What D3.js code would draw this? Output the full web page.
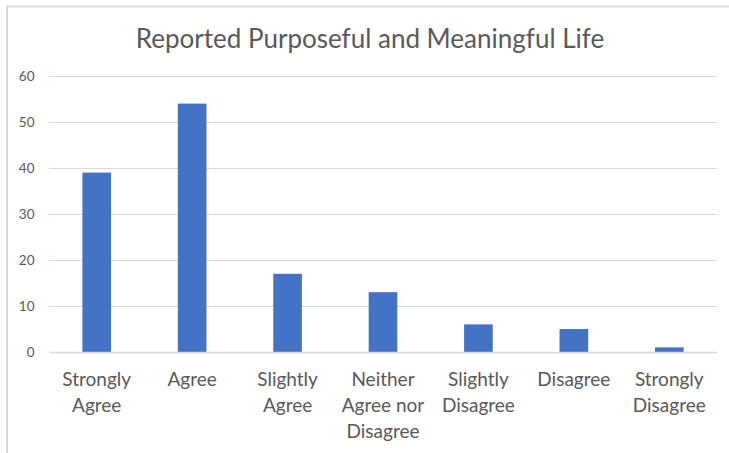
<!DOCTYPE html>
<html><head><meta charset="utf-8">
<script src="https://cdn.jsdelivr.net/npm/d3@7/dist/d3.min.js"></script>
<style>body{margin:0;background:#fff;} svg{display:block;}</style>
</head><body>
<svg id="c" width="729" height="453"></svg>
<script>
const categories = [["Strongly","Agree"],["Agree"],["Slightly","Agree"],["Neither","Agree nor","Disagree"],["Slightly","Disagree"],["Disagree"],["Strongly","Disagree"]];
const values = [39, 54, 17, 13, 6, 5, 1];
const yTicks = [0, 10, 20, 30, 40, 50, 60];
const title = "Reported Purposeful and Meaningful Life";

const svg = d3.select("#c");
const font = "Lato, 'Open Sans', sans-serif";
const textColor = "#595959";

// outer border
svg.append("line").attr("x1",6).attr("x2",729).attr("y1",6.5).attr("y2",6.5).attr("stroke","#d9d9d9").attr("stroke-width",2);
svg.append("line").attr("x1",7).attr("x2",7).attr("y1",6).attr("y2",453).attr("stroke","#d9d9d9").attr("stroke-width",2);

const x = d3.scaleBand().domain(d3.range(categories.length)).range([49, 717]).paddingInner(0.7).paddingOuter(0.35);
const y = d3.scaleLinear().domain([0, 60]).range([352, 76]);

// gridlines
svg.append("g").selectAll("line").data(yTicks).join("line")
  .attr("x1",49).attr("x2",717)
  .attr("y1",d=>Math.round(y(d))+0.5).attr("y2",d=>Math.round(y(d))+0.5)
  .attr("stroke","#d9d9d9").attr("stroke-width",1);

// y labels
svg.append("g").selectAll("text").data(yTicks).join("text")
  .attr("x",34.5).attr("y",d=>y(d)+4.8).attr("text-anchor","end")
  .attr("font-family",font).attr("font-size",13.5).attr("fill",textColor).text(d=>d);

// bars
svg.append("g").selectAll("rect").data(values).join("rect")
  .attr("x",(d,i)=>x(i)).attr("width",x.bandwidth())
  .attr("y",d=>y(d)).attr("height",d=>y(0)-y(d))
  .attr("fill","#4472c4");

// axis line
svg.append("line").attr("x1",49).attr("x2",717).attr("y1",352.5).attr("y2",352.5).attr("stroke","#d9d9d9").attr("stroke-width",1.5);

// x labels
const xl = svg.append("g").selectAll("text").data(categories).join("text")
  .attr("x",(d,i)=>x(i)+x.bandwidth()/2).attr("y",386).attr("text-anchor","middle")
  .attr("font-family",font).attr("font-size",19).attr("fill",textColor);
xl.selectAll("tspan").data(d=>d).join("tspan")
  .attr("x",function(){return this.parentNode.getAttribute("x");})
  .attr("dy",(d,i)=>i===0?0:26).text(d=>d);

// title
svg.append("text").attr("x",370).attr("y",48).attr("text-anchor","middle")
  .attr("font-family",font).attr("font-size",26).attr("fill",textColor).text(title);
</script>
</body></html>
